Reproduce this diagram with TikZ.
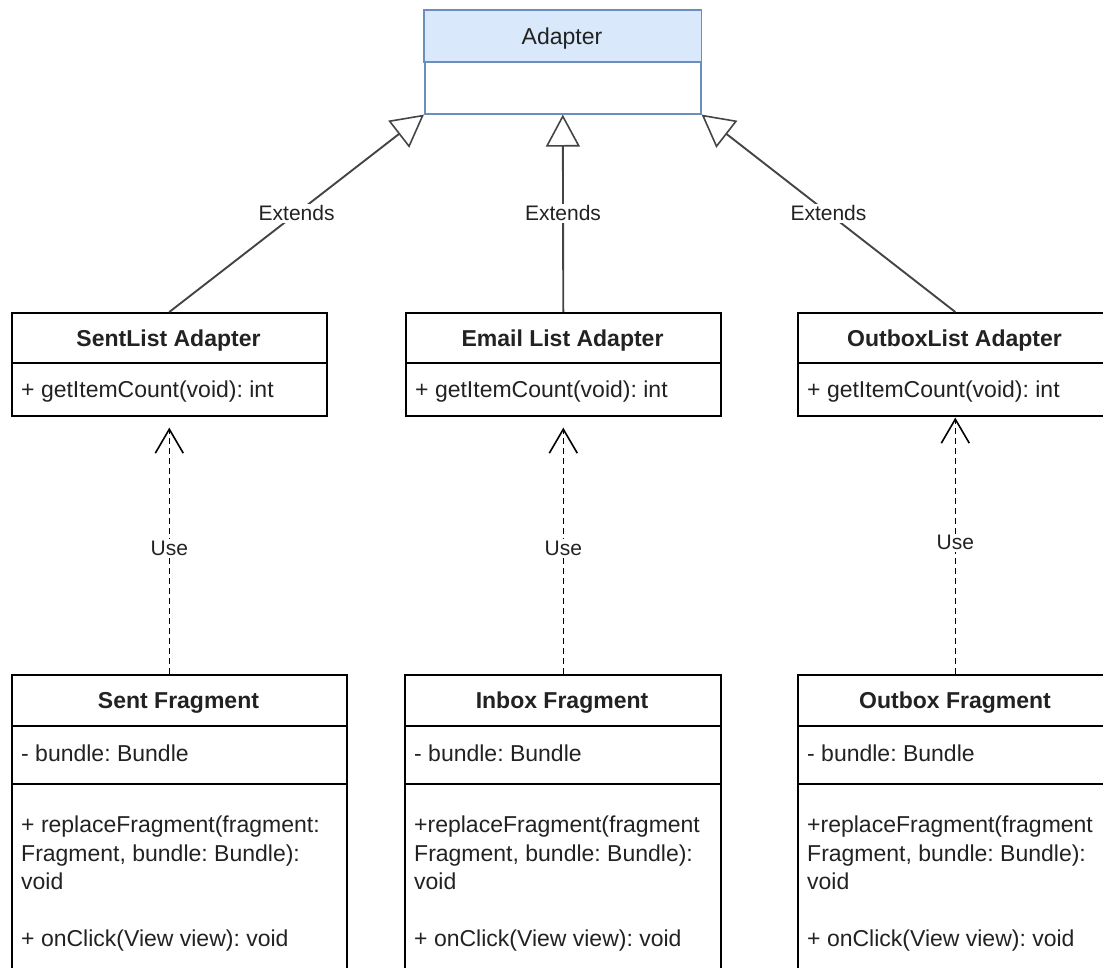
\documentclass[tikz,border=0pt]{standalone}
\usepackage{fontspec}
\setmainfont{Liberation Sans}
\usetikzlibrary{arrows.meta}
\definecolor{adfill}{HTML}{DAE8FC}
\definecolor{adline}{HTML}{6C8EBF}
\definecolor{ink}{HTML}{222222}
\definecolor{edgecol}{HTML}{444444}
\frenchspacing
\begin{document}
\begin{tikzpicture}[x=1pt,y=-1pt,
  classbox/.style={draw=black, line width=1.6pt, rectangle, inner sep=0pt, anchor=north west, fill=white},
  divider/.style={draw=black, line width=1.6pt},
  mtxt/.style={font=\fontsize{23}{28}\selectfont, text=ink, inner sep=0pt, anchor=base west},
  htxt/.style={font=\fontsize{23}{28}\selectfont\bfseries, text=ink, inner sep=0pt, anchor=base},
  lbl/.style={font=\fontsize{21}{24}\selectfont, text=ink, fill=white, inner sep=1.5pt},
  extarrow/.style={draw=edgecol, line width=1.9pt, -{Triangle[open, length=32pt, width=34pt, line width=1.6pt]}},
  usearrow/.style={draw=black, line width=1.6pt, dash pattern=on 6pt off 4pt, -{Straight Barb[length=24pt, width=28pt, line width=1.6pt]}}
]
\useasboundingbox (0,0) rectangle (1103,967);
\clip (0,0) rectangle (1103,967);

% Adapter
\node[classbox, draw=adline, minimum width=276pt, minimum height=103pt] (ad) at (424,10) {};
\draw[adline, line width=1.6pt, fill=adfill] (ad.north west) rectangle ([yshift=-52pt]ad.north east);
\node[mtxt, anchor=base] (adt) at (562,44) {Adapter};

% List adapters
\node[classbox, minimum width=315pt, minimum height=103pt] (sla) at (11,312) {};
\node[classbox, minimum width=315pt, minimum height=103pt] (ela) at (405,312) {};
\node[classbox, minimum width=315pt, minimum height=103pt] (ola) at (797,312) {};
\draw[divider] ([yshift=-51pt]sla.north west) -- ([yshift=-51pt]sla.north east);
\draw[divider] ([yshift=-51pt]ela.north west) -- ([yshift=-51pt]ela.north east);
\draw[divider] ([yshift=-51pt]ola.north west) -- ([yshift=-51pt]ola.north east);
\node[htxt] (slah) at (168.5,346) {SentList Adapter};
\node[htxt] (elah) at (562.5,346) {Email List Adapter};
\node[htxt] (olah) at (954.5,346) {OutboxList Adapter};
\node[mtxt] (slam) at (21,397) {+ getItemCount(void): int};
\node[mtxt] (elam) at (415,397) {+ getItemCount(void): int};
\node[mtxt] (olam) at (807,397) {+ getItemCount(void): int};

% Fragments
\node[classbox, minimum width=335pt, minimum height=400pt] (sf) at (11,674) {};
\node[classbox, minimum width=316pt, minimum height=400pt] (inf) at (404,674) {};
\node[classbox, minimum width=316pt, minimum height=400pt] (of) at (797,674) {};
\foreach \f in {sf,inf,of}{
  \draw[divider] ([yshift=-52pt]\f.north west) -- ([yshift=-52pt]\f.north east);
  \draw[divider] ([yshift=-110pt]\f.north west) -- ([yshift=-110pt]\f.north east);
}
\node[htxt] (sfh) at (178.5,708) {Sent Fragment};
\node[htxt] (infh) at (562,708) {Inbox Fragment};
\node[htxt] (ofh) at (955,708) {Outbox Fragment};

\node[mtxt] (sfa) at (21,761) {- bundle: Bundle};
\node[mtxt] (sf1) at (21,832) {+ replaceFragment(fragment:};
\node[mtxt] (sf2) at (21,861) {Fragment, bundle: Bundle):};
\node[mtxt] (sf3) at (21,889) {void};
\node[mtxt] (sf4) at (21,946) {+ onClick(View view): void};

\node[mtxt] (infa) at (414,761) {- bundle: Bundle};
\node[mtxt] (inf1) at (414,832) {+replaceFragment(fragment};
\node[mtxt] (inf2) at (414,861) {Fragment, bundle: Bundle):};
\node[mtxt] (inf3) at (414,889) {void};
\node[mtxt] (inf4) at (414,946) {+ onClick(View view): void};

\node[mtxt] (ofa) at (807,761) {- bundle: Bundle};
\node[mtxt] (of1) at (807,832) {+replaceFragment(fragment};
\node[mtxt] (of2) at (807,861) {Fragment, bundle: Bundle):};
\node[mtxt] (of3) at (807,889) {void};
\node[mtxt] (of4) at (807,946) {+ onClick(View view): void};

% Extends connectors
\draw[extarrow] (sla.north) -- node[lbl] (l1) {Extends} (ad.south west);
\draw[extarrow] (ela.north) -- node[lbl] (l2) {Extends} (ad.south);
\draw[extarrow] (ola.north) -- node[lbl] (l3) {Extends} (ad.south east);

% Use connectors
\draw[usearrow, shorten >=11pt] (sla.south |- sf.north) -- node[lbl, pos=0.49] (u1) {Use} (sla.south);
\draw[usearrow, shorten >=11pt] (ela.south |- inf.north) -- node[lbl, pos=0.49] (u2) {Use} (ela.south);
\draw[usearrow, shorten >=1pt] (ola.south |- of.north) -- node[lbl, pos=0.51] (u3) {Use} (ola.south);
\end{tikzpicture}
\end{document}
